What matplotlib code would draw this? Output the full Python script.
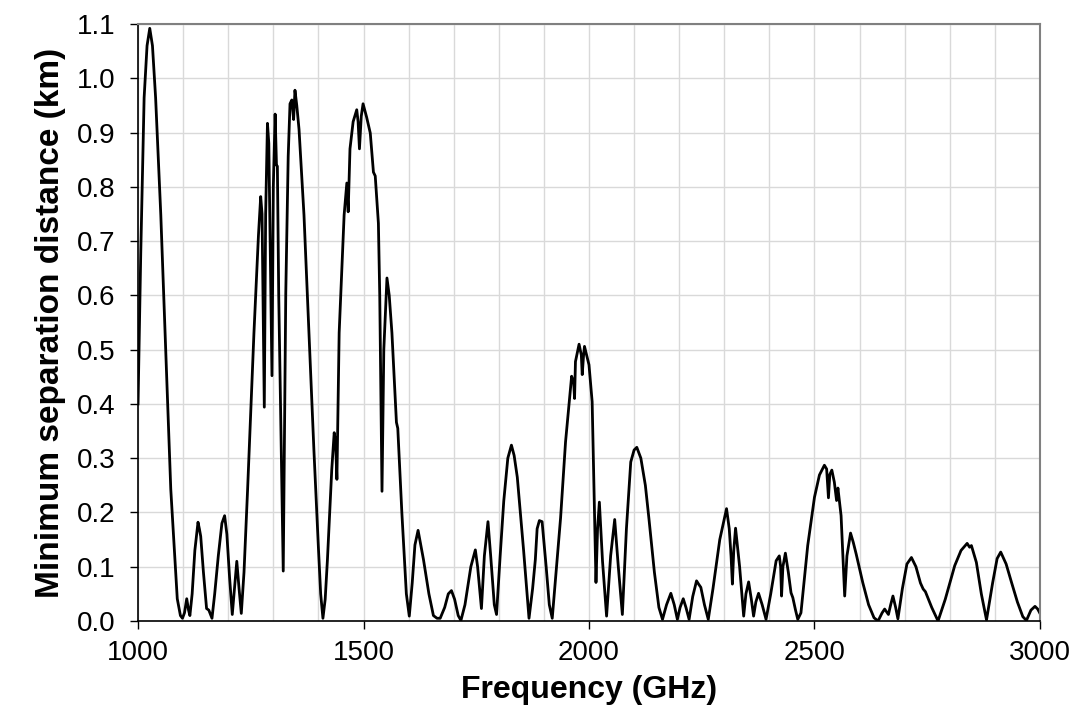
import matplotlib.pyplot as plt
from matplotlib.ticker import MultipleLocator, FormatStrFormatter

plt.rcParams['font.family'] = ['Liberation Sans', 'DejaVu Sans']

# values, GHz / km
freq = [
    1000, 1006, 1013.5, 1020, 1026, 1032, 1039, 1050.5, 1061.6, 1072.6, 1087, 1094, 1098.5,
    1103, 1108, 1112, 1115, 1120, 1126, 1133, 1136, 1139, 1145, 1152, 1157, 1164,
    1170, 1178, 1186, 1192, 1197, 1203, 1209, 1214, 1219, 1224, 1229,
    1235, 1243, 1257, 1267, 1272, 1275, 1280, 1283, 1287, 1290, 1297, 1300, 1304, 1307, 1309,
    1312, 1318, 1322, 1327.6, 1333, 1337, 1341, 1345, 1348, 1352, 1357, 1368, 1379, 1390,
    1400, 1405, 1410, 1415, 1420, 1429.6, 1435, 1438, 1441, 1446, 1457, 1463, 1466, 1470,
    1477, 1485, 1488, 1491, 1495, 1499, 1507, 1515, 1522, 1526, 1533, 1536, 1541, 1545,
    1552, 1557, 1563, 1573, 1576, 1585, 1595, 1601.5, 1608, 1614, 1621, 1627, 1633, 1645,
    1655, 1663, 1670, 1680, 1688, 1695, 1702, 1710, 1716, 1725, 1738, 1748, 1753, 1761.5,
    1768, 1776, 1782, 1790, 1795, 1803, 1811, 1820, 1828, 1834, 1841, 1855, 1867, 1875,
    1881, 1885, 1890, 1896, 1905, 1912, 1918.5, 1928, 1937, 1948, 1955.5, 1961.5, 1966,
    1968, 1970, 1978, 1983, 1985, 1988, 1990, 2000, 2007, 2011, 2015.5, 2019, 2023, 2030,
    2039, 2048, 2057, 2065, 2074, 2083, 2092.6, 2100, 2106, 2115, 2125, 2133, 2145, 2155,
    2163, 2172, 2181.5, 2189, 2196, 2202, 2209, 2215, 2222, 2230, 2238.5, 2243, 2248, 2256,
    2264.5, 2275, 2290, 2305, 2311, 2315, 2318, 2321, 2325, 2334, 2343, 2348, 2354, 2360,
    2365, 2370, 2376, 2384, 2392.6, 2403, 2415, 2422, 2425, 2427, 2430, 2435.5, 2442, 2448,
    2452, 2458, 2463, 2470, 2485, 2500, 2511, 2522, 2527, 2531, 2534, 2538.5, 2544, 2549,
    2552, 2559, 2563, 2567, 2572, 2580, 2586, 2592.6, 2607, 2620, 2632, 2641, 2650, 2655.6,
    2664, 2669, 2674, 2680, 2685, 2695, 2705, 2715, 2725, 2735, 2741, 2746, 2760, 2774,
    2790, 2811, 2825, 2838.5, 2844, 2848, 2859, 2870, 2881.5, 2895, 2905, 2913, 2925, 2937,
    2950, 2962, 2970, 2980, 2989, 2995, 3000,
]
dist = [
    0.40, 0.676, 0.964, 1.06, 1.092, 1.06, 0.964, 0.748, 0.495, 0.243, 0.041, 0.01, 0.005,
    0.015, 0.041, 0.02, 0.01, 0.05, 0.13, 0.182, 0.17, 0.156, 0.09, 0.023, 0.02, 0.005,
    0.05, 0.12, 0.18, 0.194, 0.16, 0.08, 0.012, 0.06, 0.11, 0.06, 0.014,
    0.09, 0.243, 0.53, 0.71, 0.782, 0.75, 0.394, 0.75, 0.917, 0.88, 0.452, 0.8, 0.934, 0.84, 0.838,
    0.6, 0.3, 0.092, 0.603, 0.856, 0.953, 0.96, 0.924, 0.978, 0.95, 0.906, 0.748, 0.531, 0.315,
    0.135, 0.05, 0.005, 0.04, 0.113, 0.279, 0.347, 0.33, 0.261, 0.531, 0.748, 0.807, 0.754, 0.87,
    0.92, 0.942, 0.92, 0.87, 0.93, 0.953, 0.928, 0.899, 0.827, 0.82, 0.733, 0.6, 0.239, 0.5,
    0.632, 0.6, 0.531, 0.366, 0.355, 0.2, 0.05, 0.009, 0.07, 0.14, 0.167, 0.14, 0.113, 0.05,
    0.01, 0.005, 0.005, 0.025, 0.05, 0.056, 0.04, 0.01, 0.001, 0.03, 0.1, 0.131, 0.1, 0.023,
    0.12, 0.183, 0.12, 0.03, 0.012, 0.12, 0.221, 0.3, 0.324, 0.305, 0.265, 0.13, 0.005, 0.06,
    0.113, 0.17, 0.185, 0.183, 0.1, 0.03, 0.005, 0.1, 0.19, 0.33, 0.398, 0.451, 0.44,
    0.41, 0.478, 0.51, 0.49, 0.454, 0.49, 0.506, 0.472, 0.404, 0.25, 0.071, 0.17, 0.219, 0.11,
    0.009, 0.12, 0.187, 0.1, 0.012, 0.17, 0.293, 0.315, 0.32, 0.3, 0.25, 0.188, 0.09, 0.025,
    0.003, 0.03, 0.051, 0.03, 0.003, 0.025, 0.041, 0.025, 0.003, 0.045, 0.074, 0.068, 0.062, 0.03,
    0.003, 0.06, 0.15, 0.207, 0.17, 0.12, 0.068, 0.13, 0.171, 0.1, 0.009, 0.05, 0.072, 0.04,
    0.009, 0.035, 0.051, 0.03, 0.003, 0.05, 0.111, 0.12, 0.1, 0.046, 0.1, 0.125, 0.09, 0.052,
    0.043, 0.02, 0.003, 0.015, 0.139, 0.228, 0.269, 0.287, 0.28, 0.227, 0.27, 0.278, 0.256, 0.222,
    0.245, 0.194, 0.12, 0.046, 0.12, 0.162, 0.145, 0.123, 0.071, 0.03, 0.006, 0.0, 0.015, 0.022,
    0.012, 0.03, 0.046, 0.025, 0.004, 0.06, 0.105, 0.117, 0.1, 0.07, 0.059, 0.054, 0.025, 0.0,
    0.04, 0.102, 0.13, 0.143, 0.136, 0.139, 0.108, 0.05, 0.002, 0.07, 0.115, 0.127, 0.105, 0.071,
    0.035, 0.008, 0.001, 0.02, 0.027, 0.022, 0.014,
]

fig = plt.figure(figsize=(10.75, 7.06), dpi=100)
ax = fig.add_axes([0.1284, 0.1204, 0.8390, 0.8456])

ax.plot(freq, dist, color='black', linewidth=2.0, solid_joinstyle='round')

ax.set_xlim(1000, 3000)
ax.set_ylim(0, 1.1)
ax.xaxis.set_major_locator(MultipleLocator(500))
ax.xaxis.set_minor_locator(MultipleLocator(100))
ax.yaxis.set_major_locator(MultipleLocator(0.1))
ax.yaxis.set_major_formatter(FormatStrFormatter('%.1f'))

ax.grid(True, which='both', color='#d9d9d9', linewidth=1)
ax.set_axisbelow(True)
ax.tick_params(which='minor', length=0)
ax.tick_params(which='major', length=6, width=1, direction='out', labelsize=20)
ax.tick_params(axis='x', pad=8)
ax.tick_params(axis='y', pad=10)

for side in ['top', 'right']:
    ax.spines[side].set_color('#808080')
    ax.spines[side].set_linewidth(1.5)
for side in ['left', 'bottom']:
    ax.spines[side].set_color('black')
    ax.spines[side].set_linewidth(1.2)

ax.set_xlabel('Frequency (GHz)', fontsize=23, fontweight='bold', labelpad=6)
ax.set_ylabel('Minimum separation distance (km)', fontsize=24, fontweight='bold', labelpad=8)

plt.savefig('out.png', dpi=100)
plt.close()
